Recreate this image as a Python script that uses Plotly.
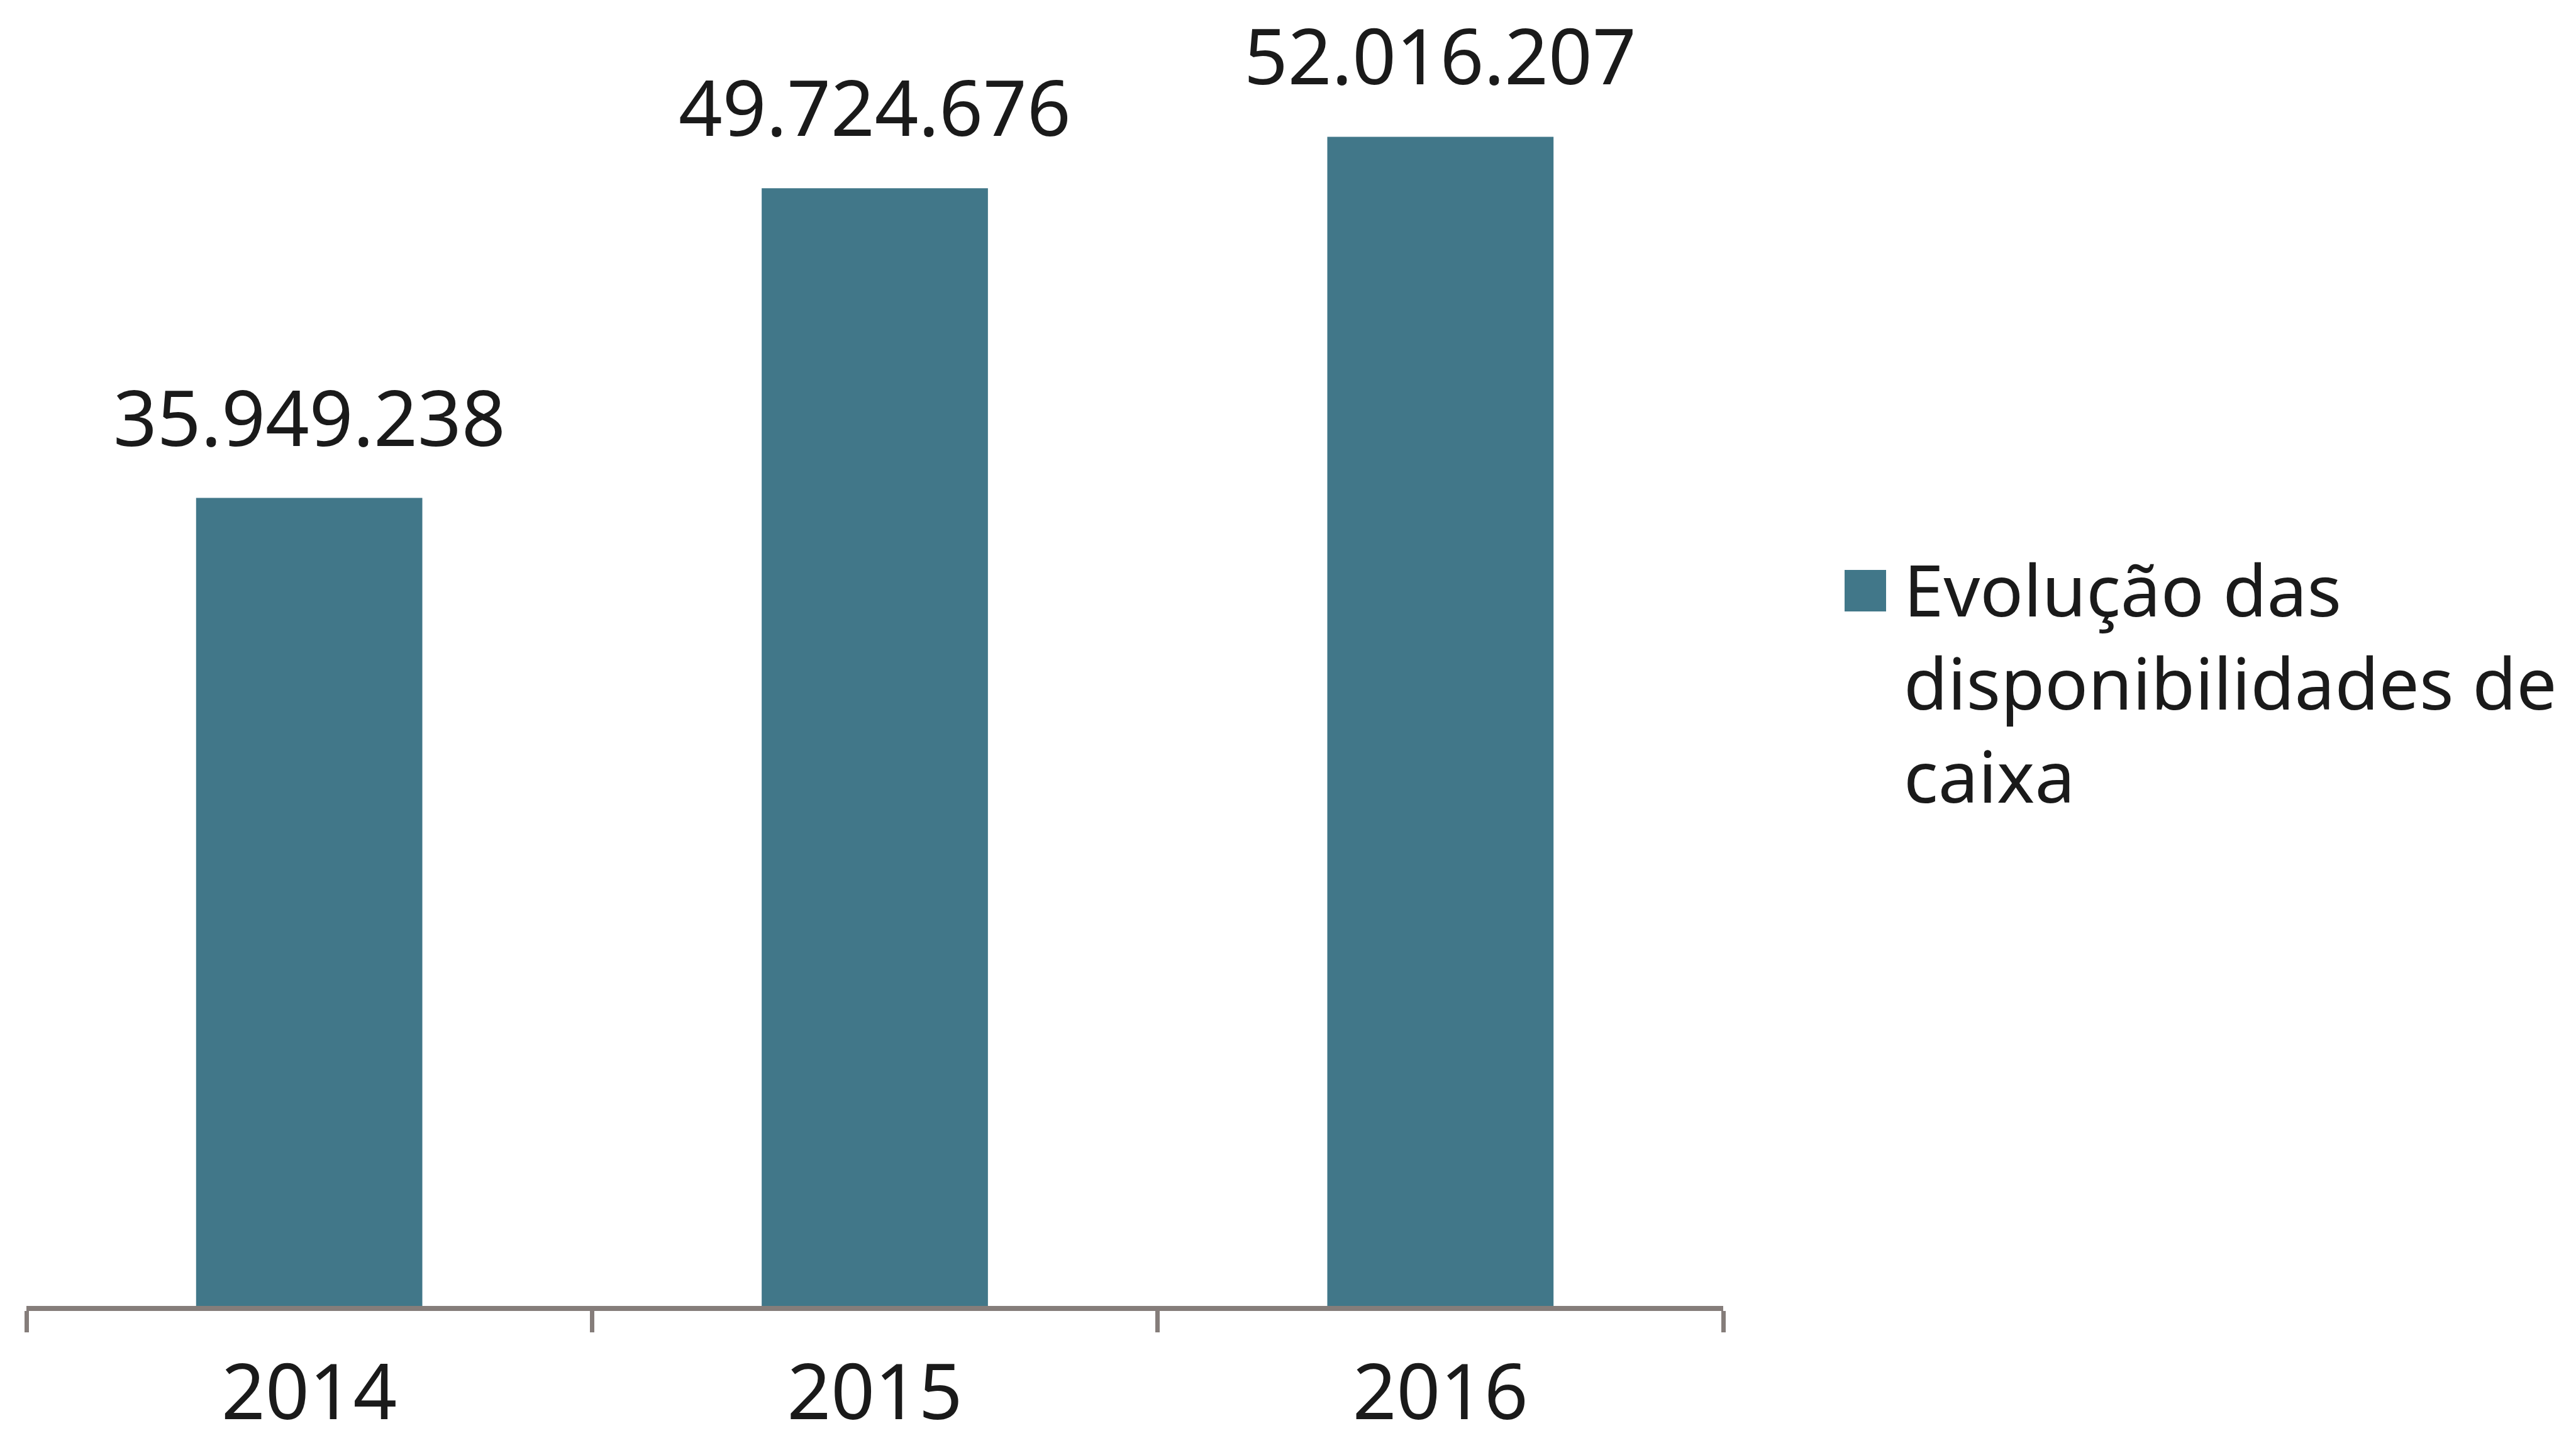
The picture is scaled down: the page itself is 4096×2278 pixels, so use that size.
import plotly.graph_objects as go

# ---- data ----
years = ["2014", "2015", "2016"]
values = [35949238, 49724676, 52016207]
series_name = "Evolução das<br>disponibilidades de<br>caixa"

def fmt(v):
    return f"{v:,}".replace(",", ".")

W, H = 4096, 2278
ML, MR, MT, MB = 34, 1364, 60, 210
PW, PH = W - ML - MR, H - MT - MB

def px_x(px):
    return (px - ML) / PW

def px_y(py):
    return (H - MB - py) / PH

BAR_COLOR = "#417789"
AXIS_COLOR = "#857d7a"
TEXT_COLOR = "#1a1a1a"
FONT = "Noto Sans"

fig = go.Figure()
fig.add_trace(go.Bar(
    x=years, y=values, width=0.4,
    marker=dict(color=BAR_COLOR, line=dict(width=0)),
    name="Evolução das disponibilidades de caixa",
    showlegend=False, hoverinfo="skip",
))

for i, v in enumerate(values):
    fig.add_annotation(
        x=i, y=v, xref="x", yref="y", text=fmt(v), showarrow=False,
        xanchor="center", yanchor="bottom", yshift=45,
        font=dict(family=FONT, size=122, color=TEXT_COLOR),
    )

# legend (drawn manually to match the large swatch)
fig.add_shape(type="rect", xref="paper", yref="paper",
              x0=px_x(2925), x1=px_x(2991), y0=px_y(964), y1=px_y(898),
              fillcolor=BAR_COLOR, line=dict(width=0))
fig.add_annotation(
    xref="paper", yref="paper", x=px_x(3017), y=px_y(848),
    xanchor="left", yanchor="top", align="left", showarrow=False,
    text=series_name,
    font=dict(family=FONT, size=114, color=TEXT_COLOR),
)

fig.update_layout(
    width=W, height=H,
    margin=dict(l=ML, r=MR, t=MT, b=MB, pad=0, autoexpand=False),
    paper_bgcolor="white", plot_bgcolor="white",
    showlegend=False,
    font=dict(family=FONT, color=TEXT_COLOR),
)
fig.update_xaxes(
    type="category", range=[-0.5, 2.5], automargin=False,
    showline=True, linecolor=AXIS_COLOR, linewidth=8,
    ticks="outside", tickson="boundaries", ticklen=34, tickwidth=7, tickcolor=AXIS_COLOR,
    ticklabelstandoff=26,
    tickfont=dict(family=FONT, size=122, color=TEXT_COLOR),
    showgrid=False, zeroline=False,
)
fig.update_yaxes(
    range=[0, 56.2e6], visible=False, showgrid=False, zeroline=False, automargin=False,
)

fig.write_html("out.html")
